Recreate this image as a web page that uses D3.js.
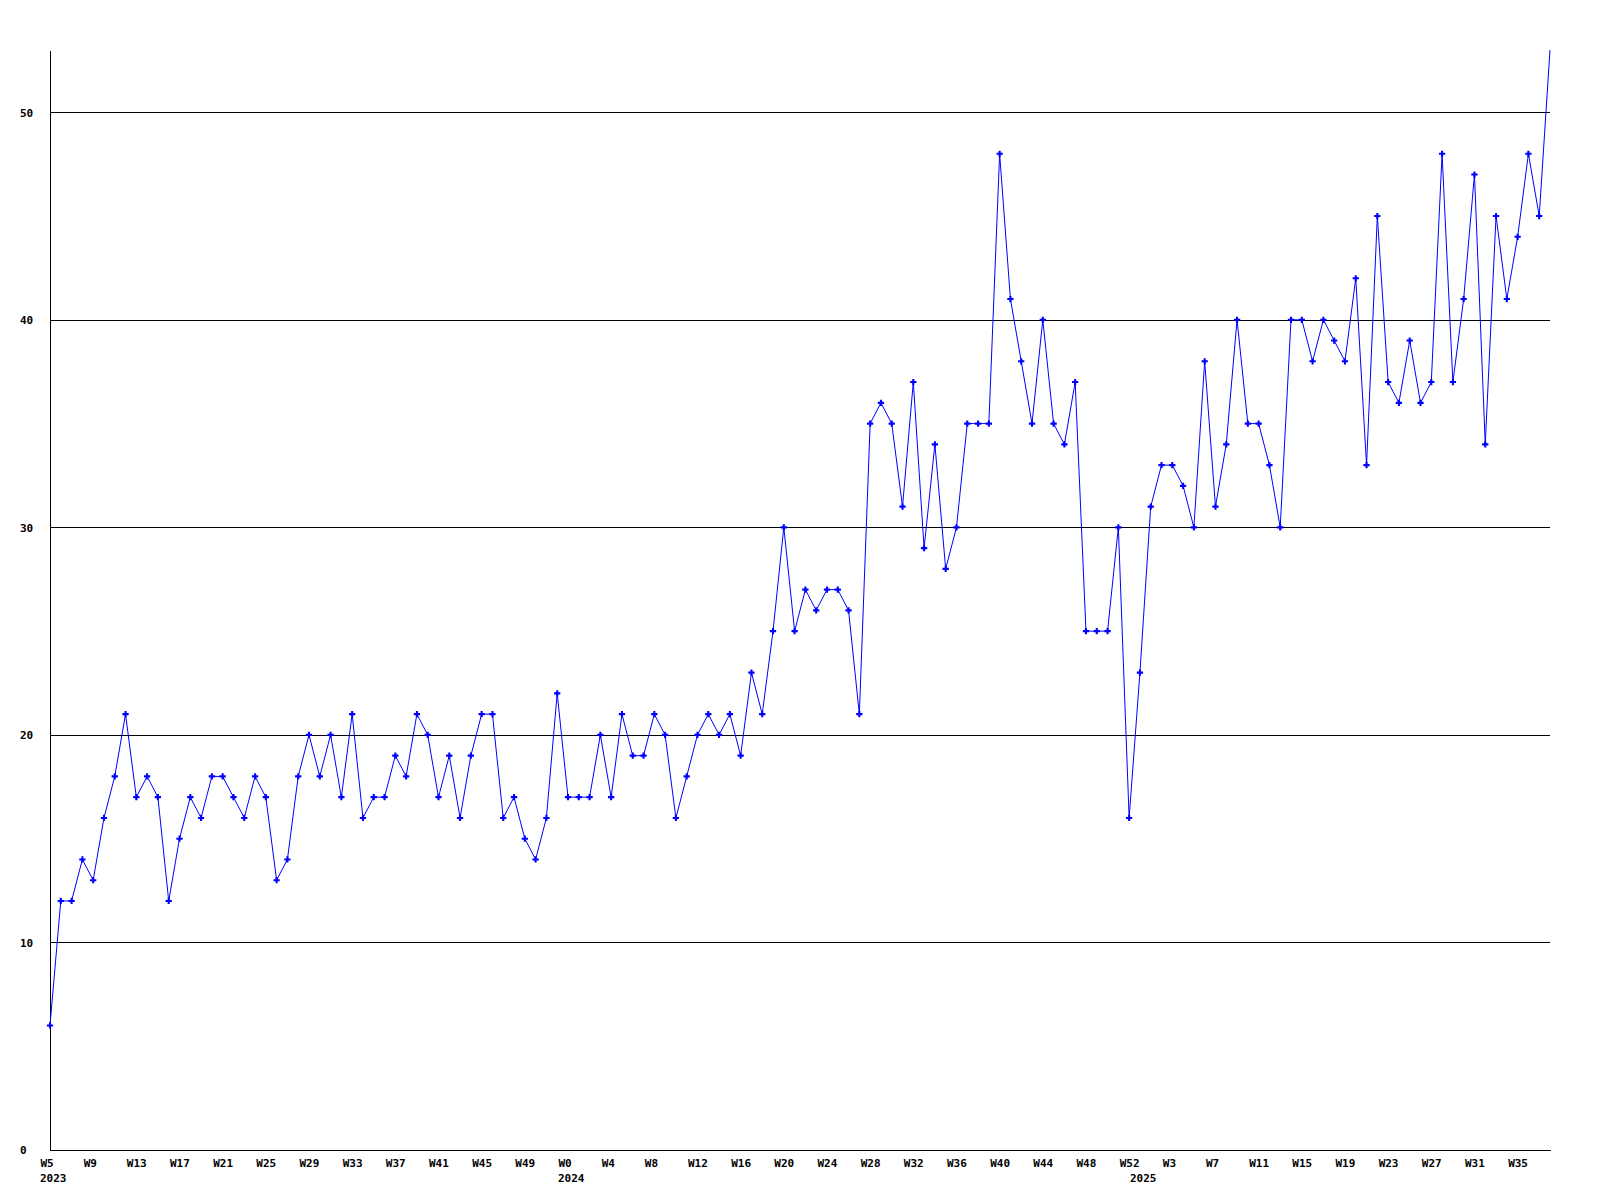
<!DOCTYPE html>
<html>
<head>
<meta charset="utf-8">
<script src="https://cdn.jsdelivr.net/npm/d3@7"></script>
<style>
  html, body { margin: 0; padding: 0; background: #ffffff; }
  svg { display: block; }
  text { font-family: "DejaVu Sans Mono", "Liberation Mono", monospace; font-weight: bold; font-size: 11px; fill: #000; }
</style>
</head>
<body>
<svg id="chart" width="1600" height="1200"></svg>
<script>
// ---- data ----
const years = [2023, 2024, 2025];
const firstWeek = [5, 0, 0];
const lastWeek = [52, 52, 38];

const values = [
  6, 12, 12, 14, 13, 16, 18, 21, 17, 18, 17, 12, 15, 17, 16, 18, 18, 17, 16, 18,
  17, 13, 14, 18, 20, 18, 20, 17, 21, 16, 17, 17, 19, 18, 21, 20, 17, 19, 16, 19,
  21, 21, 16, 17, 15, 14, 16, 22, 17, 17, 17, 20, 17, 21, 19, 19, 21, 20, 16, 18,
  20, 21, 20, 21, 19, 23, 21, 25, 30, 25, 27, 26, 27, 27, 26, 21, 35, 36, 35, 31,
  37, 29, 34, 28, 30, 35, 35, 35, 48, 41, 38, 35, 40, 35, 34, 37, 25, 25, 25, 30,
  16, 23, 31, 33, 33, 32, 30, 38, 31, 34, 40, 35, 35, 33, 30, 40, 40, 38, 40, 39,
  38, 42, 33, 45, 37, 36, 39, 36, 37, 48, 37, 41, 47, 34, 45, 41, 44, 48, 45, 53
];

const yTicks = [0, 10, 20, 30, 40, 50];
const xTickEvery = 4;

(function () {
  // categories (year, week) built from the year/week ranges above
  const categories = [];
  years.forEach((yr, i) => {
    for (let w = firstWeek[i]; w <= lastWeek[i]; w++) categories.push({ year: yr, week: w, key: yr + "-W" + w });
  });
  const data = categories.map((c, i) => ({ ...c, value: values[i] }));

  // ---- layout ----
  const svg = d3.select("#chart");
  const mLeft = 50, mRight = 1550, mTop = 50, mBottom = 1150;

  const x = d3.scalePoint().domain(categories.map(d => d.key)).range([mLeft, mRight]).padding(0);
  const y = d3.scaleLinear().domain([0, d3.max(values)]).range([mBottom, mTop]);

  // gridlines + y axis
  const yAxis = svg.append("g")
    .attr("transform", `translate(${mLeft},0)`)
    .call(d3.axisLeft(y).tickValues(yTicks).tickSize(-(mRight - mLeft)).tickSizeOuter(0).tickFormat(d3.format("d")));
  yAxis.select(".domain").attr("stroke", "#000").attr("shape-rendering", "crispEdges");
  yAxis.selectAll(".tick line").attr("stroke", "#000").attr("stroke-width", 1).attr("shape-rendering", "crispEdges");
  yAxis.selectAll(".tick text")
    .attr("text-anchor", "start")
    .attr("x", 20 - mLeft)
    .attr("dy", "0.35em")
    .style("font-family", "DejaVu Sans Mono, monospace")
    .style("font-weight", "bold")
    .style("font-size", "11px")
    .attr("fill", "#000");

  // x axis
  const tickKeys = categories.filter((d, i) => i % xTickEvery === 0).map(d => d.key);
  const xAxis = svg.append("g")
    .attr("transform", `translate(0,${mBottom})`)
    .call(d3.axisBottom(x).tickValues(tickKeys).tickSize(0).tickSizeOuter(0)
      .tickFormat(k => "W" + k.split("-W")[1]));
  xAxis.select(".domain").attr("stroke", "#000").attr("shape-rendering", "crispEdges");
  xAxis.selectAll(".tick text")
    .attr("text-anchor", "start")
    .attr("x", -10)
    .attr("y", 17)
    .attr("dy", 0)
    .style("font-family", "DejaVu Sans Mono, monospace")
    .style("font-weight", "bold")
    .style("font-size", "11px")
    .attr("fill", "#000");

  // year labels (first week of each year)
  const yearStarts = years.map(yr => categories.find(c => c.year === yr));
  svg.append("g").selectAll("text")
    .data(yearStarts)
    .join("text")
    .attr("x", d => x(d.key) - 10)
    .attr("y", mBottom + 32)
    .text(d => d.year);

  // line
  const line = d3.line().x(d => x(d.key)).y(d => y(d.value));
  svg.append("path")
    .datum(data)
    .attr("fill", "none")
    .attr("stroke", "#0000ff")
    .attr("stroke-width", 1)
    .attr("d", line);

  // markers (kept inside the plot frame)
  svg.append("clipPath").attr("id", "clip")
    .append("rect").attr("x", mLeft - 10).attr("y", mTop + 4).attr("width", mRight - mLeft + 20).attr("height", mBottom - mTop + 10);
  svg.append("g").attr("clip-path", "url(#clip)")
    .selectAll("path")
    .data(data)
    .join("path")
    .attr("transform", d => `translate(${x(d.key)},${y(d.value)})`)
    .attr("d", d3.symbol(d3.symbolCross, 22))
    .attr("fill", "#0000ff");
})();
</script>
</body>
</html>
